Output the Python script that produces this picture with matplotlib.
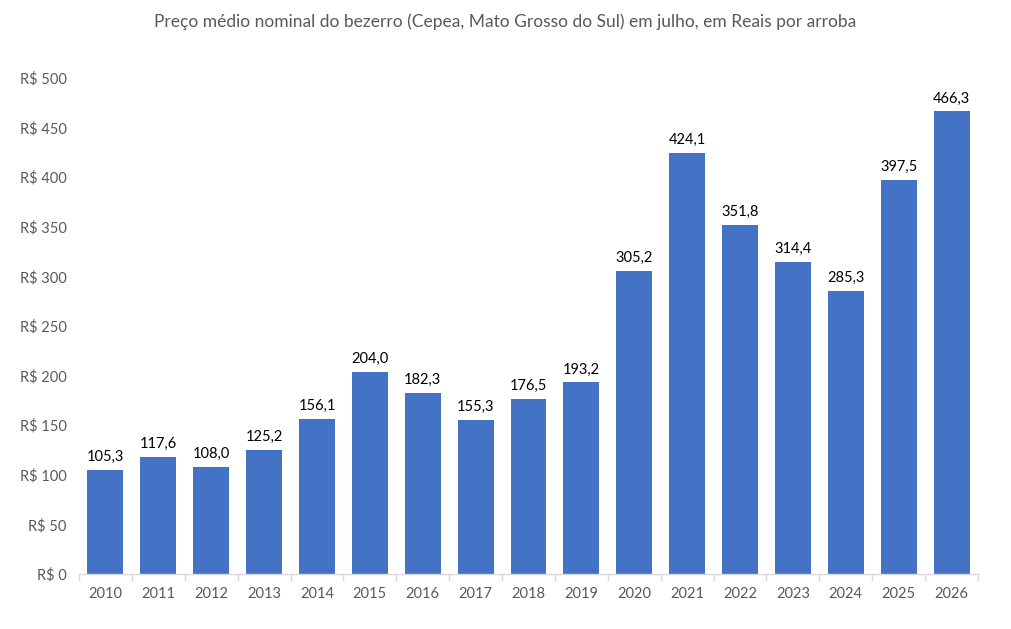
import matplotlib
matplotlib.use("Agg")
import matplotlib.pyplot as plt
import numpy as np

years = ["2010", "2011", "2012", "2013", "2014", "2015", "2016", "2017", "2018",
         "2019", "2020", "2021", "2022", "2023", "2024", "2025", "2026"]
values = [105.3, 117.6, 108.0, 125.2, 156.1, 204.0, 182.3, 155.3, 176.5,
          193.2, 305.2, 424.1, 351.8, 314.4, 285.3, 397.5, 466.3]
yticks = [0, 50, 100, 150, 200, 250, 300, 350, 400, 450, 500]
title = "Preço médio nominal do bezerro (Cepea, Mato Grosso do Sul) em julho, em Reais por arroba"

plt.rcParams['font.family'] = ['Lato', 'DejaVu Sans']

fig = plt.figure(figsize=(10.11, 6.29), dpi=100)
ax = fig.add_axes([79/1011, 1-574/629, (978-79)/1011, (574-78)/629])

x = np.arange(len(years))
bars = ax.bar(x, values, width=0.68, color="#4472C4", zorder=2)
for xi, v in zip(x, values):
    ax.text(xi, v + 6, f"{v:.1f}".replace(".", ","), ha="center", va="bottom",
            fontsize=10.5, color="black")

ax.set_xlim(-0.5, len(years) - 0.5)
ax.set_ylim(0, 500)
ax.set_yticks(yticks)
ax.set_yticklabels([f"R$ {t}" for t in yticks], fontsize=10.5, color="#595959")
ax.set_xticks(x)
ax.set_xticklabels(years, fontsize=10.5, color="#595959")
ax.tick_params(axis="x", length=0, pad=9)
ax.set_xticks(np.arange(-0.5, len(years)), minor=True)
ax.tick_params(axis="x", which="minor", length=5, color="#D9D9D9", width=1)
ax.tick_params(axis="y", length=0, pad=9)

for s in ["top", "right", "left"]:
    ax.spines[s].set_visible(False)
ax.spines["bottom"].set_color("#D9D9D9")
ax.spines["bottom"].set_linewidth(1)

fig.text(0.5, 1 - 22/629, title, ha="center", va="center", fontsize=12.5, color="#595959")

fig.savefig("out.png", dpi=100)
